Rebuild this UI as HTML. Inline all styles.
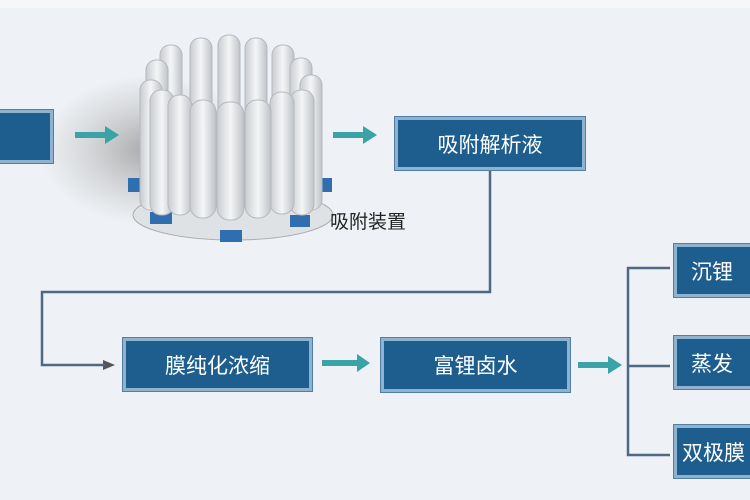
<!DOCTYPE html>
<html><head><meta charset="utf-8"><style>
body{margin:0;width:750px;height:500px;overflow:hidden;background:#eef1f5;font-family:"Liberation Sans","Noto Sans CJK SC",sans-serif}
.b{position:absolute;background:#1d5e8e;border:3px solid #8fb3cf;box-shadow:0 0 0 1px #4f7fa5;color:#fff;font-size:21px;display:flex;align-items:center;justify-content:center;box-sizing:border-box;white-space:nowrap;overflow:hidden}
</style></head><body>
<svg width="750" height="500" style="position:absolute;left:0;top:0">
<defs>
<linearGradient id="c" x1="0" x2="1"><stop offset="0" stop-color="#c9ccd0"/><stop offset=".5" stop-color="#f4f5f6"/><stop offset="1" stop-color="#bfc3c8"/></linearGradient>
<radialGradient id="s" cx=".5" cy=".5" r=".5"><stop offset="0" stop-color="#888" stop-opacity=".7"/><stop offset="1" stop-color="#aaa" stop-opacity="0"/></radialGradient>
</defs>
<ellipse cx="150" cy="150" rx="110" ry="75" fill="url(#s)"/>
<rect x="0" y="0" width="750" height="8" fill="#f6f7f9"/>
<!-- base -->
<ellipse cx="233" cy="215" rx="100" ry="25" fill="#dfe2e5" stroke="#aaa"/>
<g fill="#2f6fb0">
<rect x="128" y="178" width="22" height="14"/><rect x="318" y="178" width="14" height="14"/>
<rect x="150" y="212" width="22" height="12"/><rect x="220" y="230" width="22" height="12"/><rect x="290" y="215" width="20" height="12"/>
</g>
<!-- back cylinders -->
<g fill="url(#c)" stroke="#b5b9be">
<rect x="160" y="45" width="22" height="160" rx="10"/><rect x="190" y="38" width="22" height="160" rx="10"/>
<rect x="218" y="35" width="22" height="160" rx="10"/><rect x="245" y="38" width="22" height="160" rx="10"/>
<rect x="272" y="45" width="22" height="160" rx="10"/><rect x="290" y="58" width="22" height="150" rx="10"/>
<rect x="146" y="60" width="22" height="150" rx="10"/>
<rect x="140" y="80" width="22" height="130" rx="10"/><rect x="300" y="75" width="22" height="135" rx="10"/>
<rect x="150" y="90" width="24" height="125" rx="11"/><rect x="290" y="90" width="24" height="125" rx="11"/>
<rect x="168" y="95" width="24" height="120" rx="11"/><rect x="270" y="92" width="24" height="122" rx="11"/>
<rect x="190" y="100" width="26" height="118" rx="12"/><rect x="245" y="100" width="26" height="118" rx="12"/>
<rect x="217" y="102" width="27" height="118" rx="12"/>
</g>
<!-- arrows -->
<g fill="#3aa3a8">
<path d="M75 132h30v-6l14 9-14 9v-6h-30z"/>
<path d="M333 132h30v-6l14 9-14 9v-6h-30z"/>
<path d="M322 360h35v-6l13 9-13 9v-6h-35z"/>
<path d="M578 362h30v-6l14 9-14 9v-6h-30z"/>
<path d="M103 360l12 5-12 5z" fill="#555"/>
</g>
<g fill="none" stroke="#4d6a85" stroke-width="2.5">
<path d="M490 170V292H42V365H105"/>
<path d="M670 268H628V455H670M628 366H670"/>
</g>
<text x="330" y="228" font-size="19" fill="#222" font-family="Liberation Sans,Noto Sans CJK SC,sans-serif">吸附装置</text>
</svg>
<div class="b" style="left:-6px;top:110px;width:59px;height:53px"></div>
<div class="b" style="left:395px;top:117px;width:190px;height:53px">吸附解析液</div>
<div class="b" style="left:123px;top:338px;width:189px;height:53px">膜纯化浓缩</div>
<div class="b" style="left:381px;top:338px;width:189px;height:54px">富锂卤水</div>
<div class="b" style="left:674px;top:244px;width:100px;height:53px;justify-content:flex-start;padding-left:14px">沉锂</div>
<div class="b" style="left:674px;top:336px;width:100px;height:53px;justify-content:flex-start;padding-left:14px">蒸发</div>
<div class="b" style="left:674px;top:425px;width:100px;height:53px;justify-content:flex-start;padding-left:5px">双极膜</div>
</body></html>
